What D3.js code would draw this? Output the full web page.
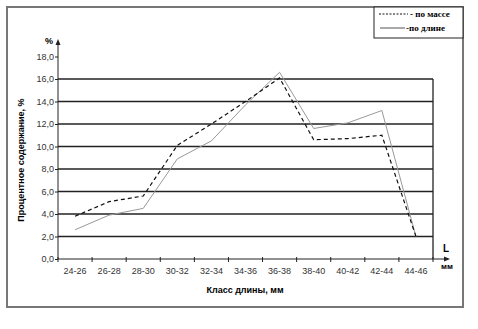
<!DOCTYPE html>
<meta charset="utf-8" />
<script src="https://d3js.org/d3.v7.min.js"></script>
<style>
  body { margin: 0; background: #fff; }
  svg text { font-family: Arial, "Liberation Sans", sans-serif; }
</style>
<div id="chart"></div>
<script>
  // length classes, mm
  const classes = ["24-26", "26-28", "28-30", "30-32", "32-34", "34-36",
    "36-38", "38-40", "40-42", "42-44", "44-46"];
  // share by mass, %
  const byMass = [3.8, 5.1, 5.6, 10.1, 12.0, 14.0, 16.1, 10.6, 10.7, 11.0, 2.0];
  // share by length, %
  const byLength = [2.6, 3.9, 4.5, 8.9, 10.5, 13.7, 16.6, 11.6, 12.1, 13.2, 2.0];
  const yTicks = [0, 2, 4, 6, 8, 10, 12, 14, 16, 18];
  const gridValues = [2, 4, 6, 8, 10, 12, 14, 16];

  const W = 478, H = 329;
  const svg = d3.select("#chart").append("svg")
    .attr("width", W).attr("height", H);

  // outer frame
  svg.append("rect")
    .attr("x", 7).attr("y", 7).attr("width", 456).attr("height", 300)
    .attr("fill", "none").attr("stroke", "#777").attr("stroke-width", 2);

  const x = d3.scaleBand().domain(classes).range([58, 433]);
  const y = d3.scaleLinear().domain([0, 16]).range([259, 79]);

  // grid
  svg.append("g").selectAll("line").data(gridValues).join("line")
    .attr("x1", 58).attr("x2", 433)
    .attr("y1", d => y(d)).attr("y2", d => y(d))
    .attr("stroke", "#222").attr("stroke-width", 1.3);

  // right border of plot area
  svg.append("line")
    .attr("x1", 433).attr("x2", 433).attr("y1", y(16)).attr("y2", y(0))
    .attr("stroke", "#222").attr("stroke-width", 1.3);

  // y axis
  const yAxis = svg.append("g")
    .attr("transform", "translate(58,0)")
    .call(d3.axisLeft(y).tickValues(yTicks).tickSize(3)
      .tickFormat(d => d3.format(".1f")(d).replace(".", ",")));
  yAxis.select(".domain").remove();
  yAxis.selectAll("line").attr("stroke", "#222");
  yAxis.selectAll("text").attr("font-size", 9).attr("fill", "#333").attr("x", -4);
  svg.append("line")
    .attr("x1", 58).attr("x2", 58).attr("y1", y(0)).attr("y2", 43)
    .attr("stroke", "#222").attr("stroke-width", 1);
  svg.append("path").attr("d", "M55.5,45 L58,39 L60.5,45 Z").attr("fill", "#222");
  svg.append("text").attr("x", 53).attr("y", 44).attr("text-anchor", "end")
    .attr("font-size", 9).attr("font-weight", "bold").text("%");

  // x axis
  const xAxis = svg.append("g")
    .attr("transform", `translate(0,${y(0)})`)
    .call(d3.axisBottom(x).tickSize(0).tickPadding(9));
  xAxis.select(".domain").remove();
  xAxis.selectAll("text").attr("font-size", 9).attr("fill", "#333");
  const bounds = classes.map(c => x(c)).concat([x.range()[1]]);
  svg.append("g").selectAll("line").data(bounds).join("line")
    .attr("x1", d => d).attr("x2", d => d)
    .attr("y1", y(0) - 2).attr("y2", y(0) + 3)
    .attr("stroke", "#222");
  svg.append("line")
    .attr("x1", 58).attr("x2", 446).attr("y1", y(0)).attr("y2", y(0))
    .attr("stroke", "#222").attr("stroke-width", 1);
  svg.append("path").attr("d", `M444,${y(0) - 2.5} L450,${y(0)} L444,${y(0) + 2.5} Z`)
    .attr("fill", "#222");
  svg.append("text").attr("x", 446).attr("y", 252).attr("text-anchor", "middle")
    .attr("font-size", 10).attr("font-weight", "bold").text("L");
  svg.append("text").attr("x", 447).attr("y", 269).attr("text-anchor", "middle")
    .attr("font-size", 8).attr("font-weight", "bold").text("мм");

  // axis titles
  svg.append("text").attr("x", 245).attr("y", 293).attr("text-anchor", "middle")
    .attr("font-size", 9).attr("font-weight", "bold").text("Класс длины, мм");
  svg.append("text")
    .attr("transform", "translate(24,160) rotate(-90)")
    .attr("text-anchor", "middle")
    .attr("font-size", 9).attr("font-weight", "bold")
    .text("Процентное содержание, %");

  // series
  const line = d3.line()
    .x((d, i) => x(classes[i]) + x.bandwidth() / 2)
    .y(d => y(d));
  svg.append("path").datum(byLength)
    .attr("d", line).attr("fill", "none")
    .attr("stroke", "#999").attr("stroke-width", 1);
  svg.append("path").datum(byMass)
    .attr("d", line).attr("fill", "none")
    .attr("stroke", "#111").attr("stroke-width", 1.2)
    .attr("stroke-dasharray", "4,3");

  // legend
  const lg = svg.append("g");
  lg.append("rect").attr("x", 374).attr("y", 7).attr("width", 89).attr("height", 31)
    .attr("fill", "#fff").attr("stroke", "#222").attr("stroke-width", 1);
  lg.append("line").attr("x1", 379).attr("x2", 408).attr("y1", 14).attr("y2", 14)
    .attr("stroke", "#111").attr("stroke-dasharray", "2,1.5");
  lg.append("text").attr("x", 410).attr("y", 17).attr("font-size", 9)
    .attr("font-weight", "bold").style("font-family", "'Liberation Serif', serif")
    .text("- по массе");
  lg.append("line").attr("x1", 380).attr("x2", 405).attr("y1", 28).attr("y2", 28)
    .attr("stroke", "#555");
  lg.append("text").attr("x", 406).attr("y", 31).attr("font-size", 9)
    .attr("font-weight", "bold").style("font-family", "'Liberation Serif', serif")
    .text("-по длине");
</script>
